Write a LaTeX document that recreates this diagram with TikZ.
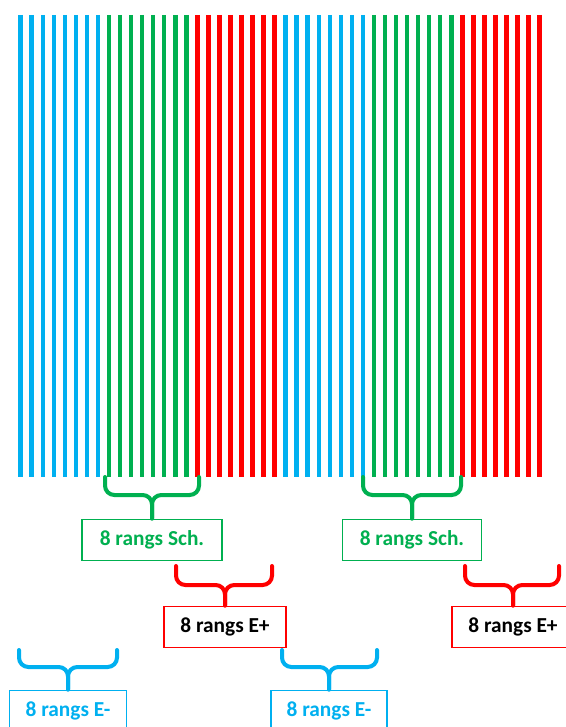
\documentclass[tikz,border=0pt]{standalone}
\usepackage{fontspec}
\setmainfont{Carlito}
\usetikzlibrary{positioning}
\definecolor{rangBlue}{HTML}{00B0F0}
\definecolor{rangGreen}{HTML}{00B050}
\definecolor{rangRed}{HTML}{FF0000}

\tikzset{
  rang/.style={line width=3.4pt},
  labelbox/.style={draw=#1, fill=white, line width=1.2pt, inner sep=0pt,
    minimum height=31pt, font=\bfseries\fontsize{16}{19}\selectfont},
  accolade/.style={draw=#1, line width=3pt, rounded corners=7pt, line cap=round},
}

\begin{document}
\begin{tikzpicture}[x=0.75pt, y=-0.75pt]
  \useasboundingbox (0,0) rectangle (566,727);
  \clip (0,0) rectangle (566,727);
  % les 48 rangs
  \foreach \col [count=\k from 0] in {rangBlue,rangGreen,rangRed,rangBlue,rangGreen,rangRed}
    \foreach \j in {0,...,7}
      \draw[rang, \col] ({20.7+11.04*(8*\k+\j)},15) -- ++(0,462);

  % etiquettes
  \node[labelbox=rangGreen, text=rangGreen, minimum width=105pt] (sch1) at (152,540) {8 rangs Sch.};
  \node[labelbox=rangGreen, text=rangGreen, minimum width=104pt] (sch2) at (412,540) {8 rangs Sch.};
  \node[labelbox=rangRed, text=black, minimum width=91.5pt] (ep1) at (225,627) {8 rangs E+};
  \node[labelbox=rangRed, text=black, minimum width=91.5pt] (ep2) at (513,627) {8 rangs E+};
  \node[labelbox=rangBlue, text=rangBlue, minimum width=88pt] (em1) at (68,711) {8 rangs E-};
  \node[labelbox=rangBlue, text=rangBlue, minimum width=87pt] (em2) at (329,711) {8 rangs E-};

  % accolades
  \coordinate (sch1m) at (152,495);
  \coordinate (sch2m) at (412,495);
  \coordinate (ep1m) at (225,585);
  \coordinate (ep2m) at (513,585);
  \coordinate (em1m) at (68,667);
  \coordinate (em2m) at (329,667);
  \draw[accolade=rangGreen] (105,477) |- (sch1m) -- (sch1.north);
  \draw[accolade=rangGreen] (199,477) |- (sch1m) -- (sch1.north);
  \draw[accolade=rangGreen] (363,477) |- (sch2m) -- (sch2.north);
  \draw[accolade=rangGreen] (461,477) |- (sch2m) -- (sch2.north);
  \draw[accolade=rangRed] (176,566) |- (ep1m) -- (ep1.north);
  \draw[accolade=rangRed] (272,566) |- (ep1m) -- (ep1.north);
  \draw[accolade=rangRed] (465,566) |- (ep2m) -- (ep2.north);
  \draw[accolade=rangRed] (559,566) |- (ep2m) -- (ep2.north);
  \draw[accolade=rangBlue] (19,650) |- (em1m) -- (em1.north);
  \draw[accolade=rangBlue] (117,650) |- (em1m) -- (em1.north);
  \draw[accolade=rangBlue] (282,650) |- (em2m) -- (em2.north);
  \draw[accolade=rangBlue] (377,650) |- (em2m) -- (em2.north);
\end{tikzpicture}
\end{document}
